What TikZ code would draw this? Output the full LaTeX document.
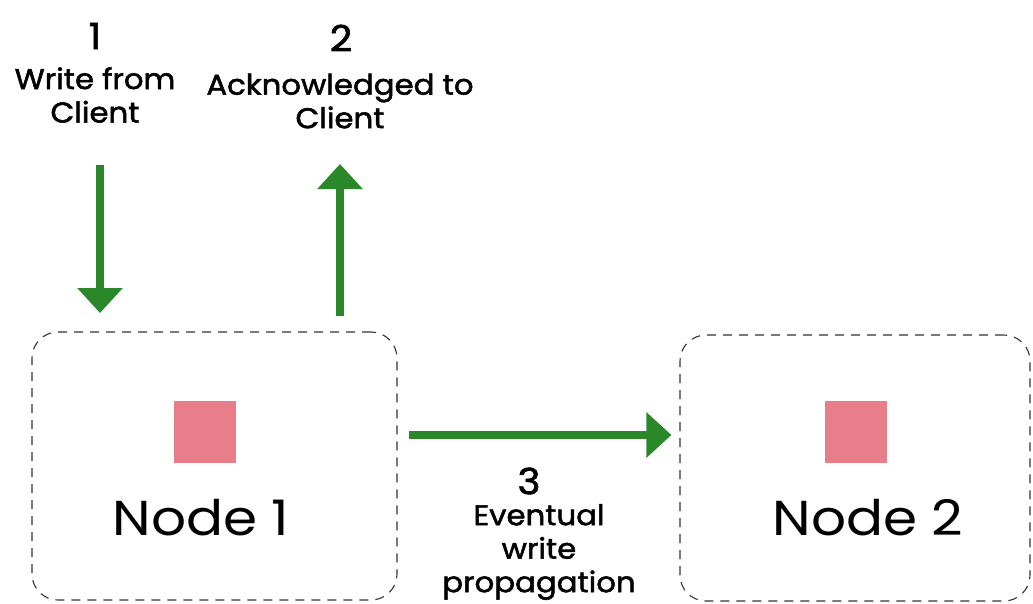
\documentclass[tikz,border=0pt]{standalone}
\usepackage{fontspec}
\setmainfont{Poppins}
\newfontfamily\nodefont[FakeStretch=1.12]{Poppins}
\newfontfamily\labfont[FakeBold=1.8,FakeStretch=1.08]{Poppins}
\usetikzlibrary{arrows.meta}
\definecolor{arrgreen}{RGB}{42,136,42}
\definecolor{sqpink}{RGB}{232,126,138}
\definecolor{dashgray}{RGB}{50,50,50}
\tikzset{
  box/.style={draw=dashgray, line width=1.1pt, dash pattern=on 9pt off 7pt, rounded corners=26pt, inner sep=0pt},
  sq/.style={fill=sqpink, draw=none, minimum size=62pt, inner sep=0pt},
  nodetext/.style={font=\nodefont\fontsize{49}{51}\selectfont, inner sep=0pt, anchor=base},
  numtext/.style={font=\labfont\fontsize{36}{38}\selectfont, inner sep=0pt},
  labtext/.style={font=\labfont\fontsize{28.5}{33.5}\selectfont, align=center, inner sep=0pt},
  garrow/.style={draw=arrgreen, line width=8pt, -{Triangle[width=44pt,length=25pt]}},
}
\begin{document}
\begin{tikzpicture}[x=1pt,y=-1pt]
\useasboundingbox (0,0) rectangle (1033,603);
% boxes
\node[box, minimum width=365pt, minimum height=268pt] (n1) at (214.5,466) {};
\node[box, minimum width=350pt, minimum height=266pt] (n2) at (855,468) {};
% squares
\node[sq] (s1) at (205,432) {};
\node[sq] (s2) at (856,432) {};
% node labels
\node[nodetext] (t1) at (201,535) {Node 1};
\node[nodetext] (t2) at (868,535) {Node 2};
% step labels
\node[numtext] (num1) at (95,36) {1};
\node[labtext] (lab1) at (95,95) {Write from\\Client};
\node[numtext] (num2) at (341,38) {2};
\node[labtext] (lab2) at (340,101) {Acknowledged to\\Client};
\node[numtext] (num3) at (529,481) {3};
\node[labtext] (lab3) at (539,552) {Eventual\\write\\propagation};
% arrows
\coordinate (a1s) at (100,165);
\coordinate (a1e) at (100,313);
\coordinate (a2s) at (340,316);
\coordinate (a2e) at (340,164);
\draw[garrow] (a1s) -- (a1e);
\draw[garrow] (a2s) -- (a2e);
\draw[garrow, shorten <=11pt, shorten >=8pt] (n1.east |- 0,435) -- (n2.west |- 0,435);
\end{tikzpicture}
\end{document}
